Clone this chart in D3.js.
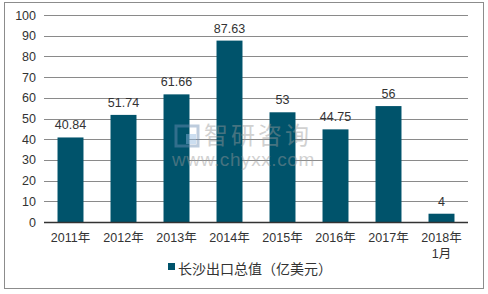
<!DOCTYPE html>
<html><head><meta charset="utf-8">
<script src="https://cdn.jsdelivr.net/npm/d3@7"></script>
<style>body{margin:0;background:#fff}svg{display:block}text{font-family:"Liberation Sans",Arial,"Noto Sans CJK SC",sans-serif}</style>
</head><body><svg id="c" width="488" height="294"></svg>
<script>
const categories = ["2011年","2012年","2013年","2014年","2015年","2016年","2017年","2018年\n1月"];
const values = [40.84, 51.74, 61.66, 87.63, 53, 44.75, 56, 4];
const valueLabels = ["40.84","51.74","61.66","87.63","53","44.75","56","4"];
const yTicks = [0,10,20,30,40,50,60,70,80,90,100];
const seriesName = "长沙出口总值（亿美元）";

const svg = d3.select("#c");
const color = "#00536b";
svg.append("rect").attr("x",4.5).attr("y",2.5).attr("width",479).attr("height",286)
  .attr("fill","#fff").attr("stroke","#8c8c8c");

const x = d3.scaleBand().domain(categories).range([44,468]).paddingInner(0.51).paddingOuter(0.255);
const y = d3.scaleLinear().domain([0,100]).range([222,15]);

// grid
svg.append("g").selectAll("line").data(yTicks.filter(d=>d>0)).join("line")
  .attr("x1",44).attr("x2",468).attr("y1",d=>Math.round(y(d))+0.5).attr("y2",d=>Math.round(y(d))+0.5)
  .attr("stroke","#8a8a8a").attr("stroke-width",1);

// y axis
const ya = svg.append("g").attr("transform","translate(44,0)")
  .call(d3.axisLeft(y).tickValues(yTicks).tickSize(0).tickPadding(8));
ya.select(".domain").remove();
ya.selectAll("text").attr("font-size",12.5).attr("fill","#333").attr("font-family","Liberation Sans, Arial, sans-serif");

// bars
svg.append("g").selectAll("rect").data(values).join("rect")
  .attr("x",(d,i)=>x(categories[i])).attr("width",x.bandwidth())
  .attr("y",d=>y(d)).attr("height",d=>y(0)-y(d)).attr("fill",color);

// value labels
svg.append("g").selectAll("text").data(values).join("text")
  .attr("x",(d,i)=>x(categories[i])+x.bandwidth()/2).attr("y",d=>y(d)-8)
  .attr("text-anchor","middle").attr("font-size",12.5).attr("fill","#333")
  .text((d,i)=>valueLabels[i]);

// watermark (on top)
const wm = svg.append("g").attr("opacity",0.45);
wm.append("rect").attr("x",176).attr("y",126).attr("width",22).attr("height",20).attr("fill","none").attr("stroke","#6f8fb5").attr("stroke-width",3);
wm.append("rect").attr("x",186).attr("y",134).attr("width",10).attr("height",10).attr("fill","#8fb8e0");
wm.append("text").attr("x",204).attr("y",144).attr("font-size",24).attr("fill","#9a9a9a").attr("letter-spacing",3).text("智研咨询");
wm.append("text").attr("x",172).attr("y",166).attr("font-size",19).attr("fill","#9a9a9a").attr("letter-spacing",0.6).text("www.chyxx.com");

// x axis
svg.append("line").attr("x1",44).attr("x2",468).attr("y1",222.5).attr("y2",222.5).attr("stroke","#333").attr("stroke-width",1.3);
const xl = svg.append("g").selectAll("text").data(categories).join("text")
  .attr("x",d=>x(d)+x.bandwidth()/2).attr("y",242).attr("text-anchor","middle")
  .attr("font-size",12.5).attr("fill","#333");
xl.each(function(d){
  const t = d3.select(this);
  d.split("\n").forEach((s,i)=>t.append("tspan").attr("x",x(d)+x.bandwidth()/2).attr("dy",i?16:0).text(s));
});

// legend
svg.append("rect").attr("x",168).attr("y",263).attr("width",7).attr("height",7).attr("fill",color);
svg.append("text").attr("x",178).attr("y",274).attr("font-size",14).attr("fill","#333").text(seriesName);
</script></body></html>
